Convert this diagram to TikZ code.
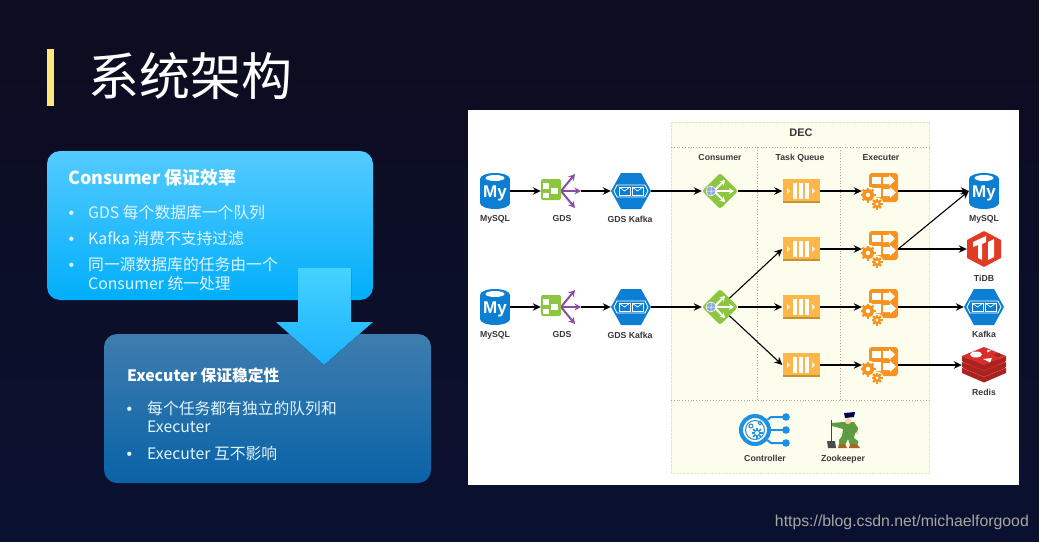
\documentclass[tikz,border=0pt]{standalone}
\usepackage{fontspec}
\setmainfont{Noto Sans CJK SC}
\newfontfamily\labelfont{Liberation Sans}
\usepackage{tikz}
\usetikzlibrary{shapes.geometric, arrows.meta, calc}
\definecolor{stagetop}{HTML}{0D0C20}
\definecolor{stagelow}{HTML}{0A1130}
\definecolor{barcolor}{HTML}{FFE57A}
\definecolor{decfill}{HTML}{FDFDEE}
\definecolor{decedge}{HTML}{E6E6B4}
\definecolor{dbblue}{HTML}{0C7FD4}
\definecolor{ctrlblue}{HTML}{1E8FE6}
\definecolor{leafgreen}{HTML}{8CC63F}
\definecolor{grape}{HTML}{8A4CA6}
\definecolor{queuefill}{HTML}{FDB748}
\definecolor{queuelow}{HTML}{C8922F}
\definecolor{execfill}{HTML}{F7931E}
\definecolor{tidbred}{HTML}{E23B24}
\definecolor{redistop}{HTML}{DA2E2A}
\definecolor{redisside}{HTML}{A92320}
\definecolor{keepergreen}{HTML}{5D9C3F}
\definecolor{keeperboot}{HTML}{A9651F}
\definecolor{consumertop}{HTML}{54CBFF}
\definecolor{consumerlow}{HTML}{00AEFA}
\definecolor{executertop}{HTML}{3E7DAE}
\definecolor{executerlow}{HTML}{0963A8}
\definecolor{bigtop}{HTML}{44D2FF}
\definecolor{biglow}{HTML}{1BB1FF}
\definecolor{itemwhite}{HTML}{E2F5FF}
\tikzstyle{db} = [rectangle, minimum width=30pt, minimum height=36pt, inner sep=0pt]
\tikzstyle{gdsbox} = [rectangle, minimum width=40pt, minimum height=36pt, inner sep=0pt]
\tikzstyle{hexbox} = [rectangle, minimum width=40pt, minimum height=36pt, inner sep=0pt]
\tikzstyle{routebox} = [diamond, minimum width=36pt, minimum height=36pt, inner sep=0pt]
\tikzstyle{queuebox} = [rectangle, minimum width=37pt, minimum height=24pt, inner sep=0pt]
\tikzstyle{execbox} = [rectangle, minimum width=36pt, minimum height=36pt, inner sep=0pt]
\tikzstyle{caption} = [font=\labelfont\bfseries\fontsize{8.7}{10}\selectfont, text=black!78, inner sep=0pt]
\tikzstyle{arrow} = [line width=1.1pt,-{Stealth[length=8pt,width=7.5pt]}]
\tikzstyle{divider} = [dotted, thick, black!35]
\tikzstyle{headtext} = [anchor=west, inner sep=0pt, text height=14.5pt, text depth=0pt, text=white, font=\bfseries]
\tikzstyle{itemtext} = [anchor=west, inner sep=0pt, text height=14.5pt, text depth=0pt, text=itemwhite, font=\fontsize{15.8}{18}\selectfont]
\tikzstyle{dotmark} = [itemtext, font=\labelfont\fontsize{15.8}{18}\selectfont]
\newcommand{\geardraw}[3]{
    \fill[decfill] (#1,#2) circle (#3+1);
    \foreach \toothangle in {0,45,...,315}
        \draw[execfill, line width=2.4pt] (#1,#2) -- ++(\toothangle:#3);
    \fill[execfill] (#1,#2) circle (#3-1.5);
    \fill[decfill] (#1,#2) circle (#3*0.3);
}
\tikzset{
    mysql icon/.pic={
        \fill[dbblue] (-15,-12) rectangle (15,12);
        \fill[dbblue] (0,-12) ellipse [x radius=15, y radius=6];
        \fill[dbblue] (0,12) ellipse [x radius=15, y radius=6];
        \fill[white] (0,-13) ellipse [x radius=9.5, y radius=3];
        \node (-glyph) [text=white, inner sep=0pt, font=\labelfont\bfseries\fontsize{17}{17}\selectfont] at (0,2.5) {My};
    },
    gds icon/.pic={
        \draw[grape, line width=2pt, -{Stealth[length=6.5pt,width=7pt]}] (0,0) -- (14,-17);
        \draw[grape, line width=2pt, -{Stealth[length=6.5pt,width=7pt]}] (0,0) -- (20,0);
        \draw[grape, line width=2pt, -{Stealth[length=6.5pt,width=7pt]}] (0,0) -- (14,17);
        \fill[leafgreen, rounded corners=2pt] (-20,-12) rectangle (0,9);
        \fill[white] (-18,-8) rectangle (-12,-2);
        \fill[white] (-10,-3) rectangle (-3,3);
        \fill[white] (-18,2) rectangle (-12,7);
    },
    kafka icon/.pic={
        \fill[dbblue] (-20,0) -- (-10,-18) -- (10,-18) -- (20,0) -- (10,18) -- (-10,18) -- cycle;
        \draw[white, line width=0.8pt] (-17,0) -- (-14,-6) -- (14,-6) -- (17,0) -- (14,6) -- (-14,6) -- cycle;
        \draw[white, line width=0.7pt] (-12,-4) rectangle (-1,4);
        \draw[white, line width=0.7pt] (-12,-4) -- (-6.5,0) -- (-1,-4);
        \draw[white, line width=0.7pt] (1,-4) rectangle (12,4);
        \draw[white, line width=0.7pt] (1,-4) -- (6.5,0) -- (12,-4);
    },
    consumer icon/.pic={
        \fill[leafgreen, rounded corners=2.5pt] (-18,0) -- (0,-18) -- (18,0) -- (0,18) -- cycle;
        \draw[white, line width=1.8pt, -{Stealth[length=5pt,width=6pt]}] (-6,0) -- (14,0);
        \draw[white, line width=1.8pt, -{Stealth[length=5pt,width=6pt]}] (-6,0) -- (5,-11);
        \draw[white, line width=1.8pt, -{Stealth[length=5pt,width=6pt]}] (-6,0) -- (5,11);
        \fill[cyan!45!blue!45] (-9,0) circle (5);
        \draw[white, line width=0.5pt] (-9,0) circle (5) (-14,0) -- (-4,0) (-9,-5) -- (-9,5);
    },
    queue icon/.pic={
        \fill[queuefill] (-18.5,-12) rectangle (18.5,12);
        \fill[queuelow] (-18.5,10) rectangle (18.5,12);
        \fill[white] (-8,-8) rectangle (-4,8);
        \fill[white] (-2,-8) rectangle (2,8);
        \fill[white] (4,-8) rectangle (8,8);
        \fill[white!80!queuefill] (-14,-3) -- (-11,0) -- (-14,3) -- cycle;
        \fill[white!80!queuefill] (11,-3) -- (14,0) -- (11,3) -- cycle;
    },
    executer icon/.pic={
        \fill[execfill, rounded corners=3pt] (-11,-18) rectangle (18,11);
        \fill[white] (-8,-14) rectangle (1,-7);
        \fill[white] (3,-14) -- (9,-14) -- (9,-16) -- (15,-10.5) -- (9,-5) -- (9,-7) -- (3,-7) -- cycle;
        \fill[white] (-8,-3) rectangle (1,6);
        \fill[white] (3,-2) -- (10,-2) -- (10,-4) -- (16,1.5) -- (10,7) -- (10,5) -- (3,5) -- cycle;
        \geardraw{-12}{4}{7.5}
        \geardraw{-3}{13}{5.5}
    },
    tidb icon/.pic={
        \fill[tidbred] (0,-18) -- (17,-9) -- (17,9) -- (0,18) -- (-17,9) -- (-17,-9) -- cycle;
        \fill[white] (-11,-7) -- (2,-13) -- (2,-7) -- (-2,-5) -- (-2,11) -- (-6,9) -- (-6,-4) -- (-11,-2) -- cycle;
        \fill[white] (4,-7) -- (10,-10) -- (10,8) -- (4,11) -- cycle;
    },
    redis icon/.pic={
        \foreach \layershift in {12,6,0} {
            \fill[redisside] (-22,-9+\layershift) -- (0,\layershift) -- (22,-9+\layershift) -- (22,-4+\layershift) -- (0,5.5+\layershift) -- (-22,-4+\layershift) -- cycle;
            \fill[redistop] (-22,-9+\layershift) -- (0,-18+\layershift) -- (22,-9+\layershift) -- (0,\layershift) -- cycle;
        }
        \fill[white] (-8,-10.5) ellipse [x radius=6, y radius=3];
        \fill[white] (3,-15) -- (7,-14.5) -- (3.5,-12.5) -- cycle;
        \fill[white] (-1,-6) -- (8,-7) -- (6,-2.5) -- cycle;
        \fill[redisside] (9,-10) -- (14,-12) -- (18,-10) -- (14,-8) -- cycle;
    },
    controller icon/.pic={
        \draw[ctrlblue, line width=2pt] (-4,-5) -- (6,-13) -- (18,-13);
        \draw[ctrlblue, line width=2pt] (-4,0) -- (18,0);
        \draw[ctrlblue, line width=2pt] (-4,5) -- (6,13) -- (18,13);
        \fill[ctrlblue] (21,-13) circle (3.8);
        \fill[ctrlblue] (21,0) circle (3.8);
        \fill[ctrlblue] (21,13) circle (3.8);
        \fill[decfill] (-10,0) circle (16);
        \draw[ctrlblue, line width=4pt] (-10,0) circle (14);
        \draw[ctrlblue, line width=1pt] (-10,0) circle (9.5);
        \draw[ctrlblue, line width=1pt] (-14,-4) circle (2);
        \draw[ctrlblue, line width=1pt] (-5,-7) circle (1.8);
        \foreach \toothangle in {0,45,...,315}
            \draw[ctrlblue, line width=1.6pt] (-8,3) -- ++(\toothangle:5.5);
        \fill[decfill] (-8,3) circle (2);
    },
    zookeeper icon/.pic={
        \draw[black!50!brown, line width=1pt] (-12,-10) -- (-12,12);
        \fill[black!70] (-16,11) -- (-8,11) -- (-7,18) -- (-15,18) -- cycle;
        \fill[keepergreen] (0,-8) -- (11,-8) -- (15,-2) -- (14,3) -- (12,3) -- (11,8) -- (15,11) -- (15,14) -- (7,15) -- (5,9) -- (2,15) -- (-4,14) -- (-4,10) -- (-1,6) -- (0,-1) -- (-11,-4) -- (-11,-7) -- cycle;
        \fill[keeperboot] (-4,14) -- (2,14) -- (4,18) -- (-5,18) -- cycle;
        \fill[keeperboot] (7,14) -- (14,14) -- (17,18) -- (6,18) -- cycle;
        \fill[orange!35!white] (5,-9) circle (3.2);
        \fill[black!65!blue] (1,-17) -- (12,-18) -- (11,-13) -- (2,-12) -- cycle;
        \fill[orange!35!white] (14,3) circle (1.5);
    }
}
\begin{document}
\begin{tikzpicture}[x=1pt, y=-1pt, node distance=67pt]

    \useasboundingbox (0,0) rectangle (1039,541);
    \fill[top color=stagetop, bottom color=stagelow] (0,0) rectangle (1039,541);

    % title
    \fill[barcolor] (47,49) rectangle (54,106);
    \node (title) [anchor=west, inner sep=0pt, text=white, font=\fontsize{51}{56}\selectfont] at (88,76) {系统架构};

    % left boxes
    \node (consumer_box) [rectangle, rounded corners=13pt, minimum width=326pt, minimum height=149pt, top color=consumertop, bottom color=consumerlow, inner sep=0pt] at (210,225.5) {};
    \node (executer_box) [rectangle, rounded corners=13pt, minimum width=327pt, minimum height=149pt, top color=executertop, bottom color=executerlow, inner sep=0pt] at (267.5,408.5) {};
    \fill[top color=bigtop, bottom color=biglow] (298,268) -- (351,268) -- (351,322) -- (373,322) -- (324,365) -- (276,322) -- (298,322) -- cycle;

    \node (consumer_head) [headtext, font=\bfseries\fontsize{17.9}{20}\selectfont] at (68,177) {Consumer 保证效率};
    \node (consumer_dot_a) [dotmark] at (68.5,211) {•};
    \node (consumer_item_a) [itemtext] at (88,211) {GDS 每个数据库一个队列};
    \node (consumer_dot_b) [dotmark] at (68.5,237) {•};
    \node (consumer_item_b) [itemtext] at (88,237) {Kafka 消费不支持过滤};
    \node (consumer_dot_c) [dotmark] at (68.5,263) {•};
    \node (consumer_item_c) [itemtext] at (88,263) {同一源数据库的任务由一个};
    \node (consumer_item_d) [itemtext] at (88,282) {Consumer 统一处理};

    \node (executer_head) [headtext, font=\bfseries\fontsize{15.8}{18}\selectfont] at (127,374) {Executer 保证稳定性};
    \node (executer_dot_a) [dotmark] at (126.5,407) {•};
    \node (executer_item_a) [itemtext] at (147,407) {每个任务都有独立的队列和};
    \node (executer_item_b) [itemtext] at (147,425) {Executer};
    \node (executer_dot_b) [dotmark] at (126.5,452) {•};
    \node (executer_item_c) [itemtext] at (147,452) {Executer 互不影响};

    % right panel
    \fill[white] (468,110) rectangle (1019,485);
    \fill[decfill] (671,122) rectangle (929,473);
    \draw[decedge, densely dotted] (671,122) rectangle (929,473);
    \draw[divider] (671,147) -- (929,147);
    \draw[divider] (671,400) -- (929,400);
    \draw[divider] (757,147) -- (757,400);
    \draw[divider] (840,147) -- (840,400);
    \node (dec_title) [caption, font=\labelfont\bfseries\fontsize{11}{12}\selectfont] at (801,133) {DEC};
    \node (consumer_title) [caption] at (720,158) {Consumer};
    \node (queue_title) [caption] at (800,158) {Task Queue};
    \node (executer_title) [caption] at (881,158) {Executer};

    % first row
    \node (mysql_a) [db] at (495,191) {};
    \node (gds_a) [gdsbox, right of=mysql_a, node distance=66pt] {};
    \node (kafka_a) [hexbox, right of=gds_a, node distance=70pt] {};
    \node (consumer_a) [routebox, right of=kafka_a, node distance=89pt] {};
    \node (queue_a) [queuebox, right of=consumer_a, node distance=81pt] {};
    \node (executer_a) [execbox, right of=queue_a, node distance=79pt] {};
    \node (mysql_c) [db, right of=executer_a, node distance=104pt] {};

    % second row
    \node (mysql_b) [db, below of=mysql_a, node distance=116pt] {};
    \node (gds_b) [gdsbox, right of=mysql_b, node distance=66pt] {};
    \node (kafka_b) [hexbox, right of=gds_b, node distance=70pt] {};
    \node (consumer_b) [routebox, right of=kafka_b, node distance=89pt] {};

    % the four queues
    \node (queue_b) [queuebox, below of=queue_a, node distance=58pt] {};
    \node (queue_c) [queuebox, below of=queue_b, node distance=58pt] {};
    \node (queue_d) [queuebox, below of=queue_c, node distance=58pt] {};
    \node (executer_b) [execbox, right of=queue_b, node distance=79pt] {};
    \node (executer_c) [execbox, right of=queue_c, node distance=79pt] {};
    \node (executer_d) [execbox, right of=queue_d, node distance=79pt] {};
    \node (tidb) [hexbox, right of=executer_b, node distance=104pt, minimum width=34pt] {};
    \node (kafka_c) [hexbox, right of=executer_c, node distance=104pt] {};
    \node (redis) [hexbox, right of=executer_d, node distance=104pt, minimum width=44pt] {};

    \node (controller) [hexbox, minimum width=50pt] at (765,430) {};
    \node (zookeeper) [hexbox, minimum width=34pt] at (843,430) {};

    \pic at (mysql_a) {mysql icon};
    \pic at (mysql_b) {mysql icon};
    \pic at (mysql_c) {mysql icon};
    \pic at (gds_a) {gds icon};
    \pic at (gds_b) {gds icon};
    \pic at (kafka_a) {kafka icon};
    \pic at (kafka_b) {kafka icon};
    \pic at (kafka_c) {kafka icon};
    \pic at (consumer_a) {consumer icon};
    \pic at (consumer_b) {consumer icon};
    \pic at (queue_a) {queue icon};
    \pic at (queue_b) {queue icon};
    \pic at (queue_c) {queue icon};
    \pic at (queue_d) {queue icon};
    \pic at (executer_a) {executer icon};
    \pic at (executer_b) {executer icon};
    \pic at (executer_c) {executer icon};
    \pic at (executer_d) {executer icon};
    \pic at (tidb) {tidb icon};
    \pic at (redis) {redis icon};
    \pic at (controller) {controller icon};
    \pic at (zookeeper) {zookeeper icon};

    \node (mysql_a_label) [caption] at (495,219) {MySQL};
    \node (gds_a_label) [caption] at (562,219) {GDS};
    \node (kafka_a_label) [caption] at (630,219) {GDS Kafka};
    \node (mysql_b_label) [caption] at (495,335) {MySQL};
    \node (gds_b_label) [caption] at (562,335) {GDS};
    \node (kafka_b_label) [caption] at (630,335) {GDS Kafka};
    \node (mysql_c_label) [caption] at (984,219) {MySQL};
    \node (tidb_label) [caption] at (984,278) {TiDB};
    \node (kafka_c_label) [caption] at (984,334) {Kafka};
    \node (redis_label) [caption] at (984,392) {Redis};
    \node (controller_label) [caption] at (765,458) {Controller};
    \node (zookeeper_label) [caption] at (843,459) {Zookeeper};

    \draw[arrow] (mysql_a) -- (gds_a);
    \draw[arrow] (gds_a) -- (kafka_a);
    \draw[arrow] (kafka_a) -- (consumer_a);
    \draw[arrow] (consumer_a) -- (queue_a);
    \draw[arrow] (queue_a) -- (executer_a);
    \draw[arrow] (executer_a) -- (mysql_c);

    \draw[arrow] (mysql_b) -- (gds_b);
    \draw[arrow] (gds_b) -- (kafka_b);
    \draw[arrow] (kafka_b) -- (consumer_b);
    \draw[arrow] (consumer_b) -- (queue_b.west);
    \draw[arrow] (consumer_b) -- (queue_c);
    \draw[arrow] (consumer_b) -- (queue_d.west);

    \draw[arrow] (queue_b) -- (executer_b);
    \draw[arrow] (queue_c) -- (executer_c);
    \draw[arrow] (queue_d) -- (executer_d);
    \draw[arrow] (executer_b.east) -- (mysql_c.west);
    \draw[arrow] (executer_b) -- (tidb);
    \draw[arrow] (executer_c) -- (kafka_c);
    \draw[arrow] (executer_d) -- (redis);

    \node (watermark) [anchor=east, inner sep=0pt, text=white!65!black, font=\labelfont\fontsize{15.8}{18}\selectfont] at (1029,522) {https://blog.csdn.net/michaelforgood};

\end{tikzpicture}
\end{document}
